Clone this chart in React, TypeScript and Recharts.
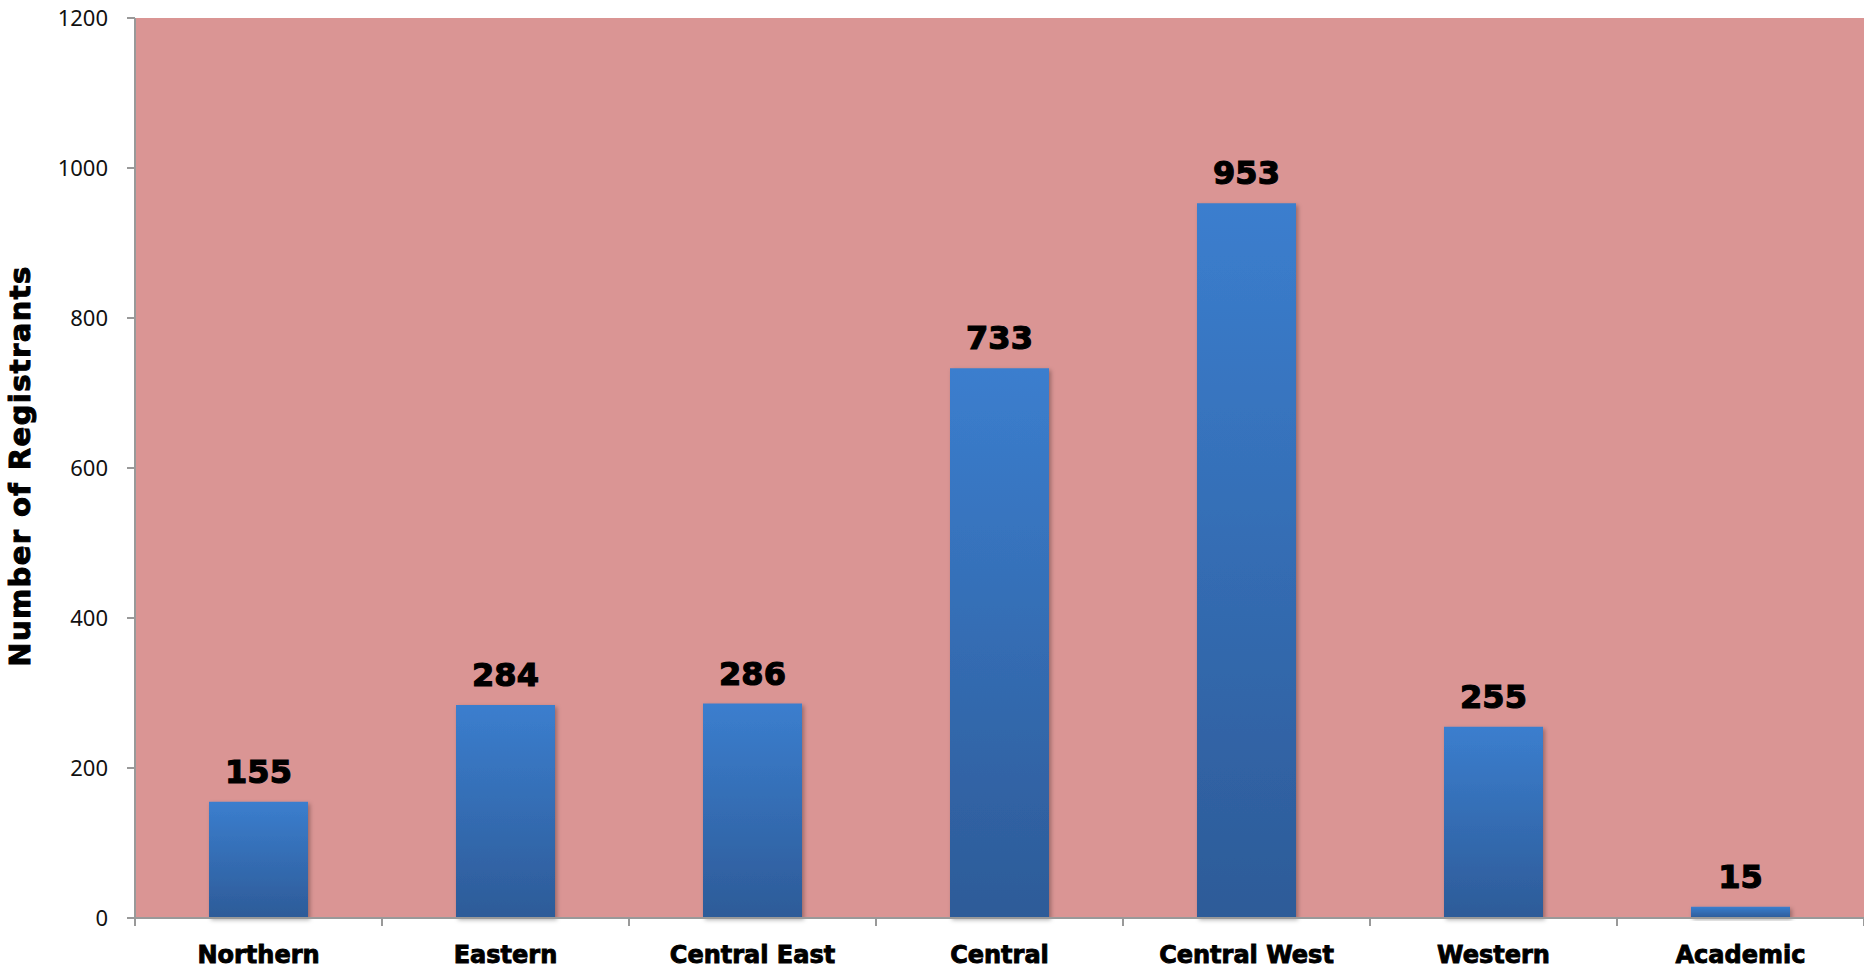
import React from 'react';
import { BarChart, Bar, XAxis, YAxis, CartesianGrid, LabelList, Rectangle } from 'recharts';

// Registrants by region
const regions = ['Northern', 'Eastern', 'Central East', 'Central', 'Central West', 'Western', 'Academic'];
const registrants = [155, 284, 286, 733, 953, 255, 15];
const yTicks = [0, 200, 400, 600, 800, 1000, 1200];

const data = regions.map((region, i) => ({ region, count: registrants[i] }));

const AXIS_COLOR = '#999999';
const HEAVY_FONT = '"DejaVu Sans", Arial, sans-serif';

// Category tick: label centred under the band, tick marks at the band edges
const RegionTick = (props: any) => {
  const { x, y, payload, width, visibleTicksCount } = props;
  const half = width && visibleTicksCount ? width / visibleTicksCount / 2 : 0;
  return (
    <g>
      {half > 0 && (
        <>
          <line x1={x - half} x2={x - half} y1={y} y2={y + 8} stroke={AXIS_COLOR} strokeWidth={2} />
          <line x1={x + half} x2={x + half} y1={y} y2={y + 8} stroke={AXIS_COLOR} strokeWidth={2} />
        </>
      )}
      <text
        x={x}
        y={y + 45}
        textAnchor="middle"
        fontFamily={HEAVY_FONT}
        fontWeight="bold"
        fontSize={24}
        fill="#000"
        stroke="#000"
        strokeWidth={0.9}
      >
        {payload.value}
      </text>
    </g>
  );
};

const ValueLabel = (props: any) => {
  const { x, y, width, value } = props;
  return (
    <text
      x={x + width / 2}
      y={y - 19}
      textAnchor="middle"
      fontFamily={HEAVY_FONT}
      fontWeight="bold"
      fontSize={32}
      fill="#000"
      stroke="#000"
      strokeWidth={1.2}
    >
      {value}
    </text>
  );
};

const YTitle = (props: any) => {
  const vb = props.viewBox || { x: 0, y: 0, width: 0, height: 0 };
  const cx = vb.x + 30;
  const cy = vb.y + vb.height / 2 - 2;
  return (
    <text
      x={cx}
      y={cy}
      transform={`rotate(-90, ${cx}, ${cy})`}
      textAnchor="middle"
      fontFamily={HEAVY_FONT}
      fontWeight="bold"
      fontSize={29}
      letterSpacing={1.4}
      fill="#000"
      stroke="#000"
      strokeWidth={1}
    >
      Number of Registrants
    </text>
  );
};

const GradientBar = (props: any) => (
  <Rectangle
    x={props.x}
    y={props.y}
    width={props.width}
    height={props.height}
    fill="url(#barFill)"
    filter="url(#barShadow)"
  />
);

export default function App() {
  return (
    <div style={{ position: 'absolute', left: 0, top: 0 }}>
      <BarChart
        width={1864}
        height={970}
        data={data}
        margin={{ top: 18, right: 0, bottom: 0, left: 0 }}
        barCategoryGap="30%"
      >
        <defs>
          <linearGradient id="barFill" x1="0" y1="0" x2="0" y2="1">
            <stop offset="0%" stopColor="#3B7ECE" />
            <stop offset="100%" stopColor="#2D5B98" />
          </linearGradient>
          <filter id="barShadow" x="-20%" y="-20%" width="140%" height="140%">
            <feDropShadow dx="2" dy="2" stdDeviation="2" floodColor="#000" floodOpacity="0.3" />
          </filter>
        </defs>
        <CartesianGrid fill="#DA9594" stroke="none" horizontal={false} vertical={false} />
        <XAxis
          dataKey="region"
          height={52}
          interval={0}
          tickLine={false}
          tickSize={0}
          tickMargin={0}
          axisLine={{ stroke: AXIS_COLOR, strokeWidth: 2 }}
          tick={<RegionTick />}
        />
        <YAxis
          width={135}
          domain={[0, 1200]}
          ticks={yTicks}
          interval={0}
          tickSize={8}
          tickMargin={19}
          axisLine={{ stroke: AXIS_COLOR, strokeWidth: 2 }}
          tickLine={{ stroke: AXIS_COLOR, strokeWidth: 2 }}
          tick={{ fontFamily: '"Noto Sans", sans-serif', fontSize: 22, fill: '#111' }}
          label={<YTitle />}
        />
        <Bar dataKey="count" isAnimationActive={false} shape={<GradientBar />} barSize={99}>
          <LabelList dataKey="count" content={<ValueLabel />} />
        </Bar>
      </BarChart>
    </div>
  );
}
